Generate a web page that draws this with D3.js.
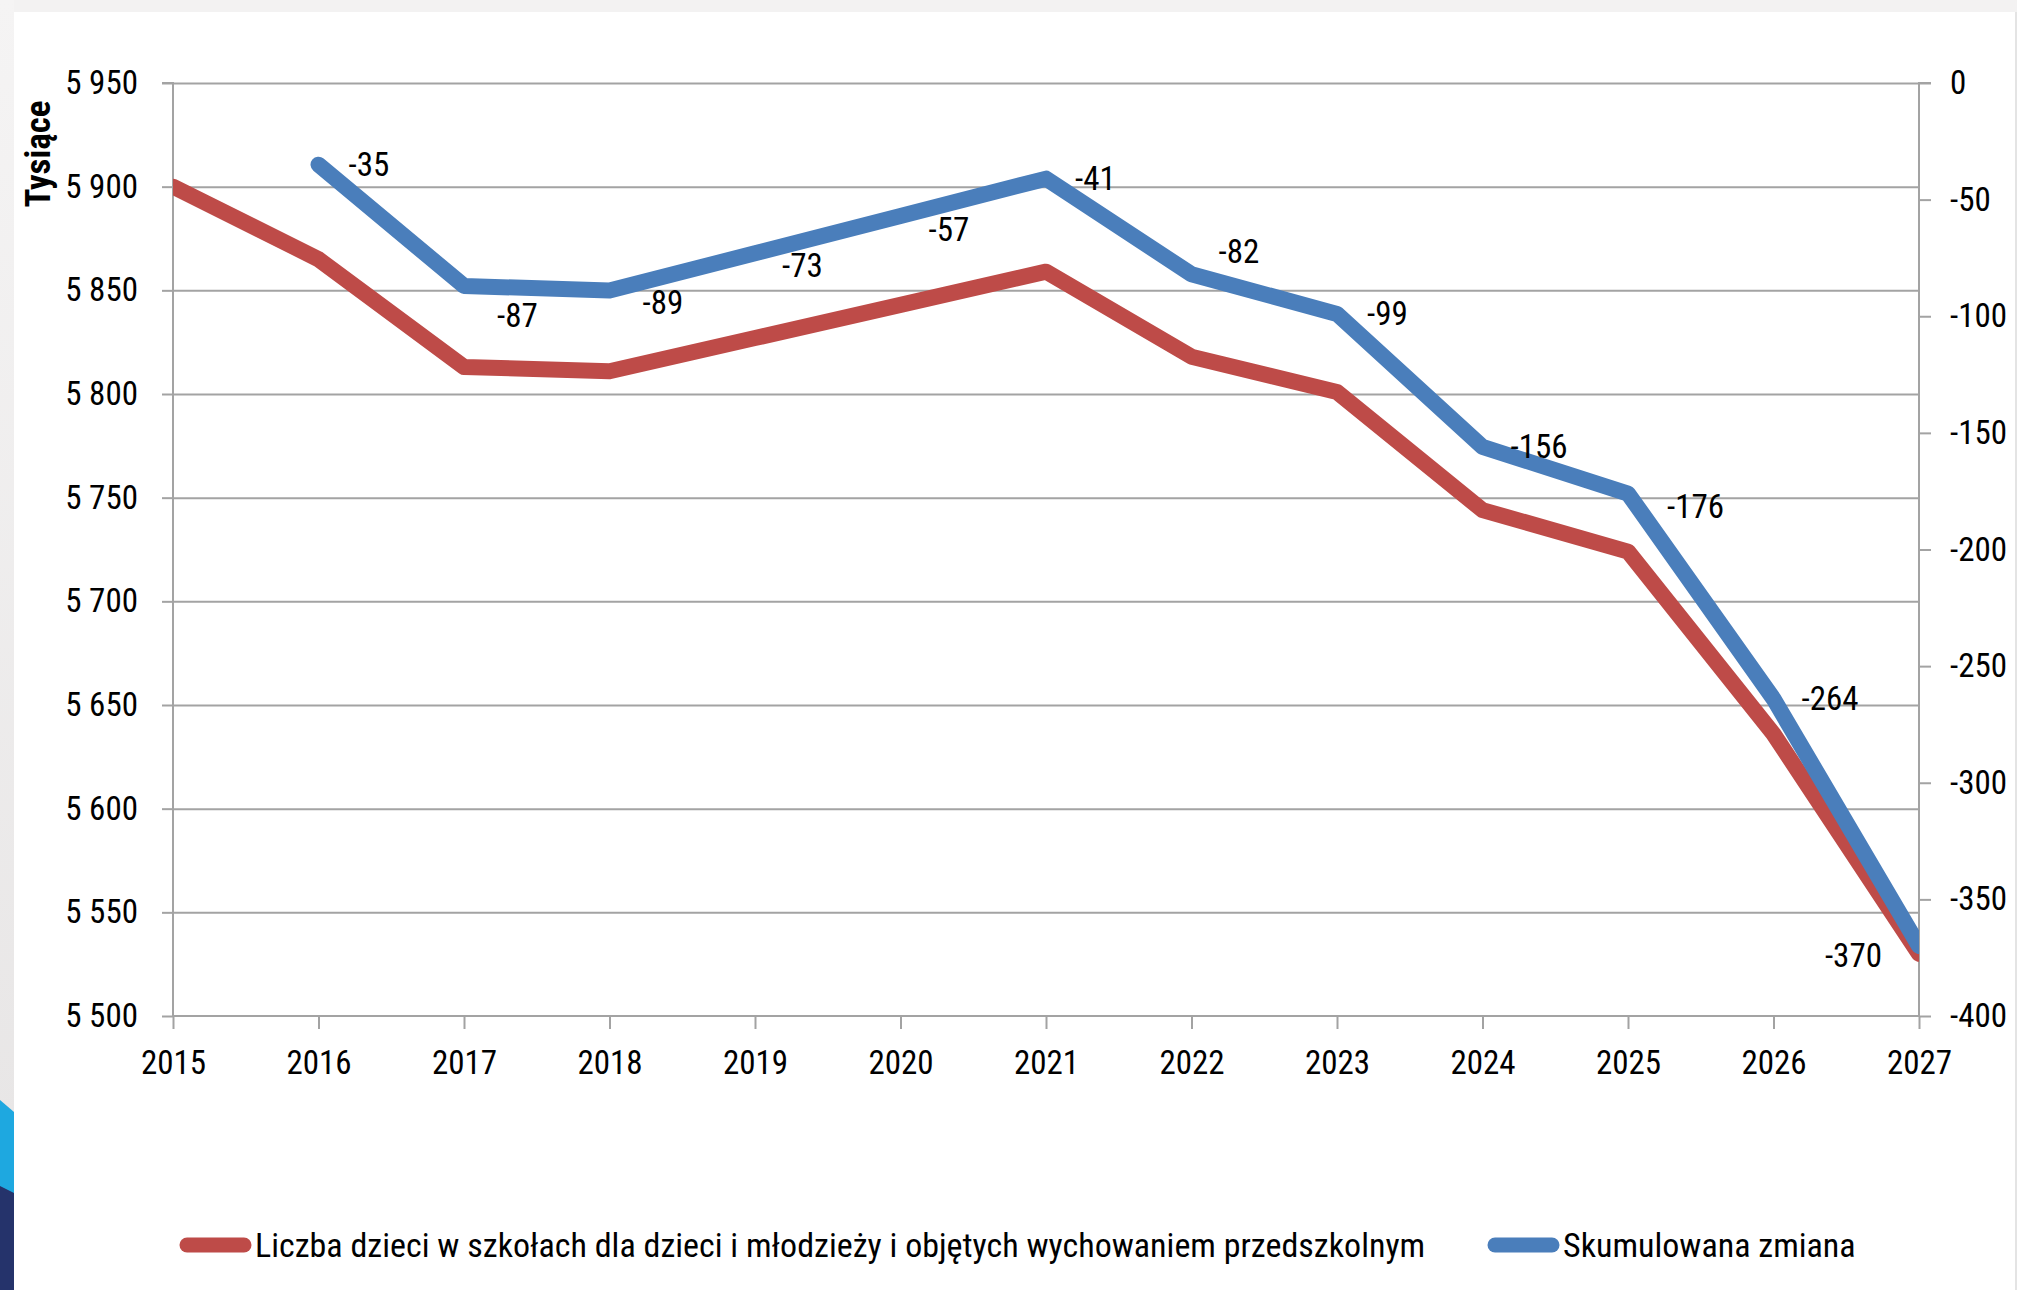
<!DOCTYPE html>
<html>
<head>
<meta charset="utf-8">
<script src="https://cdn.jsdelivr.net/npm/d3@7"></script>
<style>
  html, body { margin: 0; padding: 0; background: #f3f2f2; }
  svg { display: block; }
  text { font-family: "Liberation Sans Narrow", "Arial Narrow", "Roboto Condensed", sans-serif; fill: #000; }
</style>
</head>
<body>
<script>
// ---------- data ----------
const years = [2015, 2016, 2017, 2018, 2019, 2020, 2021, 2022, 2023, 2024, 2025, 2026, 2027];
const childrenCount = [5900, 5865, 5813, 5811, 5827, 5843, 5859, 5818, 5801, 5744, 5724, 5636, 5530];
const cumulativeChange = [null, -35, -87, -89, -73, -57, -41, -82, -99, -156, -176, -264, -370];
const leftTicks = [5500, 5550, 5600, 5650, 5700, 5750, 5800, 5850, 5900, 5950];
const rightTicks = [0, -50, -100, -150, -200, -250, -300, -350, -400];
const seriesNames = ["Liczba dzieci w szkołach dla dzieci i młodzieży i objętych wychowaniem przedszkolnym", "Skumulowana zmiana"];
const yAxisTitle = "Tysiące";

// ---------- layout (label placement, not data) ----------
const labelPlacement = [
  null, [30, 0, "start"], [33, 30, "start"], [33, 12, "start"], [27, 12, "start"], [28, 13, "start"],
  [29, 0, "start"], [27, -23, "start"], [30, 0, "start"], [28, 0, "start"], [39, 13, "start"],
  [28, 0, "start"], [-37, 9, "end"]
];

const W = 2017, H = 1290;
const plot = { left: 173, right: 1919, top: 83, bottom: 1016 };
const RED = "#be4b48", BLUE = "#4a7ebb", GRID = "#a3a3a3", FS = 33;

const svg = d3.select("body").append("svg").attr("width", W).attr("height", H);

// page frame / background decoration
svg.append("rect").attr("x", 0).attr("y", 0).attr("width", W).attr("height", H).attr("fill", "#f3f2f2");
const defs = svg.append("defs");
const lg = defs.append("linearGradient").attr("id", "leftStrip").attr("x1", 0).attr("y1", 0).attr("x2", 0).attr("y2", 1);
lg.append("stop").attr("offset", "0").attr("stop-color", "#f5f4f4");
lg.append("stop").attr("offset", "1").attr("stop-color", "#e6e4e4");
svg.append("rect").attr("x", 0).attr("y", 0).attr("width", 14).attr("height", H).attr("fill", "url(#leftStrip)");
svg.append("path").attr("d", "M0,1100 L14,1112 L14,1195 L0,1188 Z").attr("fill", "#1ea8e0");
svg.append("path").attr("d", "M0,1186 L14,1193 L14,1290 L0,1290 Z").attr("fill", "#25336b");
svg.append("rect").attr("x", 14).attr("y", 12).attr("width", 2001).attr("height", H - 12).attr("fill", "#ffffff");
svg.append("rect").attr("x", 2015).attr("y", 12).attr("width", 2).attr("height", H - 12).attr("fill", "#e4e4e4");

// ---------- scales ----------
const x = d3.scaleLinear().domain([2015, 2027]).range([plot.left, plot.right]);
const yL = d3.scaleLinear().domain([5500, 5950]).range([plot.bottom, plot.top]);
const yR = d3.scaleLinear().domain([-400, 0]).range([plot.bottom, plot.top]);
const loc = d3.formatLocale({ decimal: ",", thousands: " ", grouping: [3], currency: ["", ""], minus: "-" });
const fmtThousands = loc.format(",d");
const fmtInt = loc.format("d");

// gridlines
svg.append("g").attr("class", "grid")
  .attr("transform", `translate(${plot.left},0)`)
  .call(d3.axisLeft(yL).tickValues(leftTicks.filter(v => v !== 5500)).tickSize(-(plot.right - plot.left)).tickFormat(""))
  .call(g => g.select(".domain").remove())
  .call(g => g.selectAll("line").attr("stroke", GRID).attr("stroke-width", 2));

// left axis
const axL = svg.append("g").attr("transform", `translate(${plot.left},0)`)
  .call(d3.axisLeft(yL).tickValues(leftTicks).tickSize(11).tickPadding(24).tickFormat(fmtThousands));
// right axis
const axR = svg.append("g").attr("transform", `translate(${plot.right},0)`)
  .call(d3.axisRight(yR).tickValues(rightTicks).tickSize(12).tickPadding(19).tickFormat(fmtInt));
// bottom axis
const axB = svg.append("g").attr("transform", `translate(0,${plot.bottom})`)
  .call(d3.axisBottom(x).tickValues(years).tickSize(13).tickPadding(22).tickFormat(d3.format("d")));

[axL, axR, axB].forEach(g => {
  g.select(".domain").attr("stroke", GRID).attr("stroke-width", 2);
  g.selectAll(".tick line").attr("stroke", GRID).attr("stroke-width", 2);
  g.selectAll(".tick text").attr("font-size", FS).attr("font-family", null).style("fill", "#000");
});
axL.select(".domain").attr("d", `M-11,${plot.top}H0V${plot.bottom}`);
axR.select(".domain").attr("d", `M12,${plot.top}H0V${plot.bottom}`);
axB.select(".domain").attr("d", `M${plot.left},0H${plot.right}`);

// y axis title
svg.append("text")
  .attr("transform", "translate(38,154) rotate(-90)")
  .attr("text-anchor", "middle").attr("dy", "0.35em")
  .attr("font-size", 35).attr("font-weight", "bold")
  .text(yAxisTitle);

// ---------- lines ----------
defs.append("clipPath").attr("id", "plotClip")
  .append("rect").attr("x", plot.left).attr("y", 0).attr("width", plot.right - plot.left).attr("height", H);

const redData = years.map((yr, i) => ({ yr, v: childrenCount[i] }));
const blueData = years.map((yr, i) => ({ yr, v: cumulativeChange[i] }));

const lineL = d3.line().defined(d => d.v != null).x(d => x(d.yr)).y(d => yL(d.v));
const lineR = d3.line().defined(d => d.v != null).x(d => x(d.yr)).y(d => yR(d.v));

const lines = svg.append("g").attr("clip-path", "url(#plotClip)");
lines.append("path").datum(redData).attr("d", lineL)
  .attr("fill", "none").attr("stroke", RED).attr("stroke-width", 16)
  .attr("stroke-linejoin", "round").attr("stroke-linecap", "round");
lines.append("path").datum(blueData).attr("d", lineR)
  .attr("fill", "none").attr("stroke", BLUE).attr("stroke-width", 16)
  .attr("stroke-linejoin", "round").attr("stroke-linecap", "round");

// data labels for cumulative change
svg.append("g").selectAll("text")
  .data(blueData.map((d, i) => ({ ...d, p: labelPlacement[i] })).filter(d => d.v != null))
  .join("text")
  .attr("x", d => x(d.yr) + d.p[0])
  .attr("y", d => yR(d.v) + d.p[1])
  .attr("dy", "0.35em")
  .attr("text-anchor", d => d.p[2])
  .attr("font-size", FS)
  .text(d => fmtInt(d.v));

// ---------- legend ----------
const legendY = 1245;
const legend = [
  { name: seriesNames[0], color: RED, x0: 180 },
  { name: seriesNames[1], color: BLUE, x0: 1488 }
];
const lgG = svg.append("g").selectAll("g").data(legend).join("g");
lgG.append("line")
  .attr("x1", d => d.x0 + 7).attr("x2", d => d.x0 + 64)
  .attr("y1", legendY).attr("y2", legendY)
  .attr("stroke", d => d.color).attr("stroke-width", 15).attr("stroke-linecap", "round");
lgG.append("text")
  .attr("x", d => d.x0 + 75).attr("y", legendY).attr("dy", "0.35em")
  .attr("font-size", 34)
  .text(d => d.name);
</script>
</body>
</html>
